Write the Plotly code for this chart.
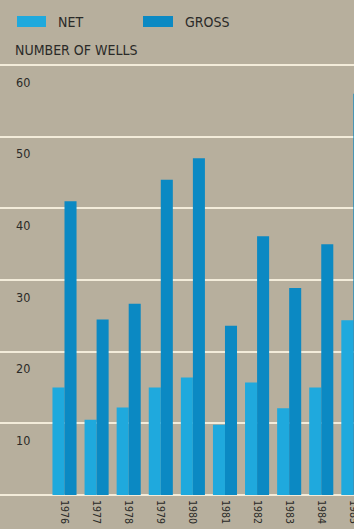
import plotly.graph_objects as go

years = ["1976", "1977", "1978", "1979", "1980", "1981", "1982", "1983", "1984", "1985"]
net_wells = [15, 10.5, 12.2, 15, 16.4, 9.8, 15.7, 12.1, 15, 24.4]
gross_wells = [41, 24.5, 26.7, 44, 47, 23.6, 36.1, 28.9, 35, 56]
y_ticks = [10, 20, 30, 40, 50, 60]
series_names = ["NET", "GROSS"]
y_title = "NUMBER OF WELLS"

BG = "#b7af9d"
NET_C = "#1fa9dd"
GROSS_C = "#0b89c3"
GRID = "#f3ecda"
TXT = "#2a2a28"
FONT = "DejaVu Sans Condensed, Liberation Sans Narrow, Arial Narrow, Roboto, sans-serif"

fig = go.Figure()
fig.add_trace(go.Bar(x=years, y=net_wells, name=series_names[0], marker_color=NET_C,
                     marker_line_width=0))
fig.add_trace(go.Bar(x=years, y=gross_wells, name=series_names[1], marker_color=GROSS_C,
                     marker_line_width=0))

annotations = []
for v in y_ticks:
    annotations.append(dict(x=14 / 354, xref="paper", y=v, yref="y", text=str(v),
                            showarrow=False, xanchor="left", yanchor="middle", yshift=-17,
                            font=dict(family=FONT, size=12.5, color=TXT)))

# legend drawn manually
shapes = [
    dict(type="rect", xref="paper", yref="paper", x0=17 / 354, x1=46 / 354,
         y0=1 + (60 - 16) / 435, y1=1 + (60 - 27) / 435, fillcolor=NET_C, line_width=0),
    dict(type="rect", xref="paper", yref="paper", x0=143 / 354, x1=173 / 354,
         y0=1 + (60 - 16) / 435, y1=1 + (60 - 27) / 435, fillcolor=GROSS_C, line_width=0),
]
annotations.append(dict(x=56 / 354, xref="paper", y=1 + (60 - 21.5) / 435, yref="paper",
                        text=series_names[0], showarrow=False, xanchor="left", yanchor="middle",
                        font=dict(family=FONT, size=14, color=TXT)))
annotations.append(dict(x=183 / 354, xref="paper", y=1 + (60 - 21.5) / 435, yref="paper",
                        text=series_names[1], showarrow=False, xanchor="left", yanchor="middle",
                        font=dict(family=FONT, size=14, color=TXT)))
annotations.append(dict(x=13 / 354, xref="paper", y=1 + (60 - 50) / 435, yref="paper",
                        text=y_title, showarrow=False, xanchor="left", yanchor="middle",
                        font=dict(family=FONT, size=14, color=TXT)))

fig.update_layout(
    width=354, height=529,
    margin=dict(l=0, r=0, t=60, b=34, pad=0, autoexpand=False),
    paper_bgcolor=BG, plot_bgcolor=BG,
    barmode="group", bargap=0.25, bargroupgap=0,
    showlegend=False,
    shapes=shapes,
    annotations=annotations,
    xaxis=dict(type="category", range=[-2.01, 9.02], showgrid=False, showline=False,
               zeroline=False, ticks="", tickangle=90, ticklabelstandoff=4, automargin=False,
               tickfont=dict(family=FONT, size=10.5, color=TXT), fixedrange=True),
    yaxis=dict(range=[0, 60.7], tickvals=[0] + y_ticks, showticklabels=False,
               showgrid=True, gridcolor=GRID, gridwidth=2, zeroline=True,
               zerolinecolor=GRID, zerolinewidth=2, showline=False, ticks="",
               automargin=False, fixedrange=True),
)

fig.write_html("out.html")
